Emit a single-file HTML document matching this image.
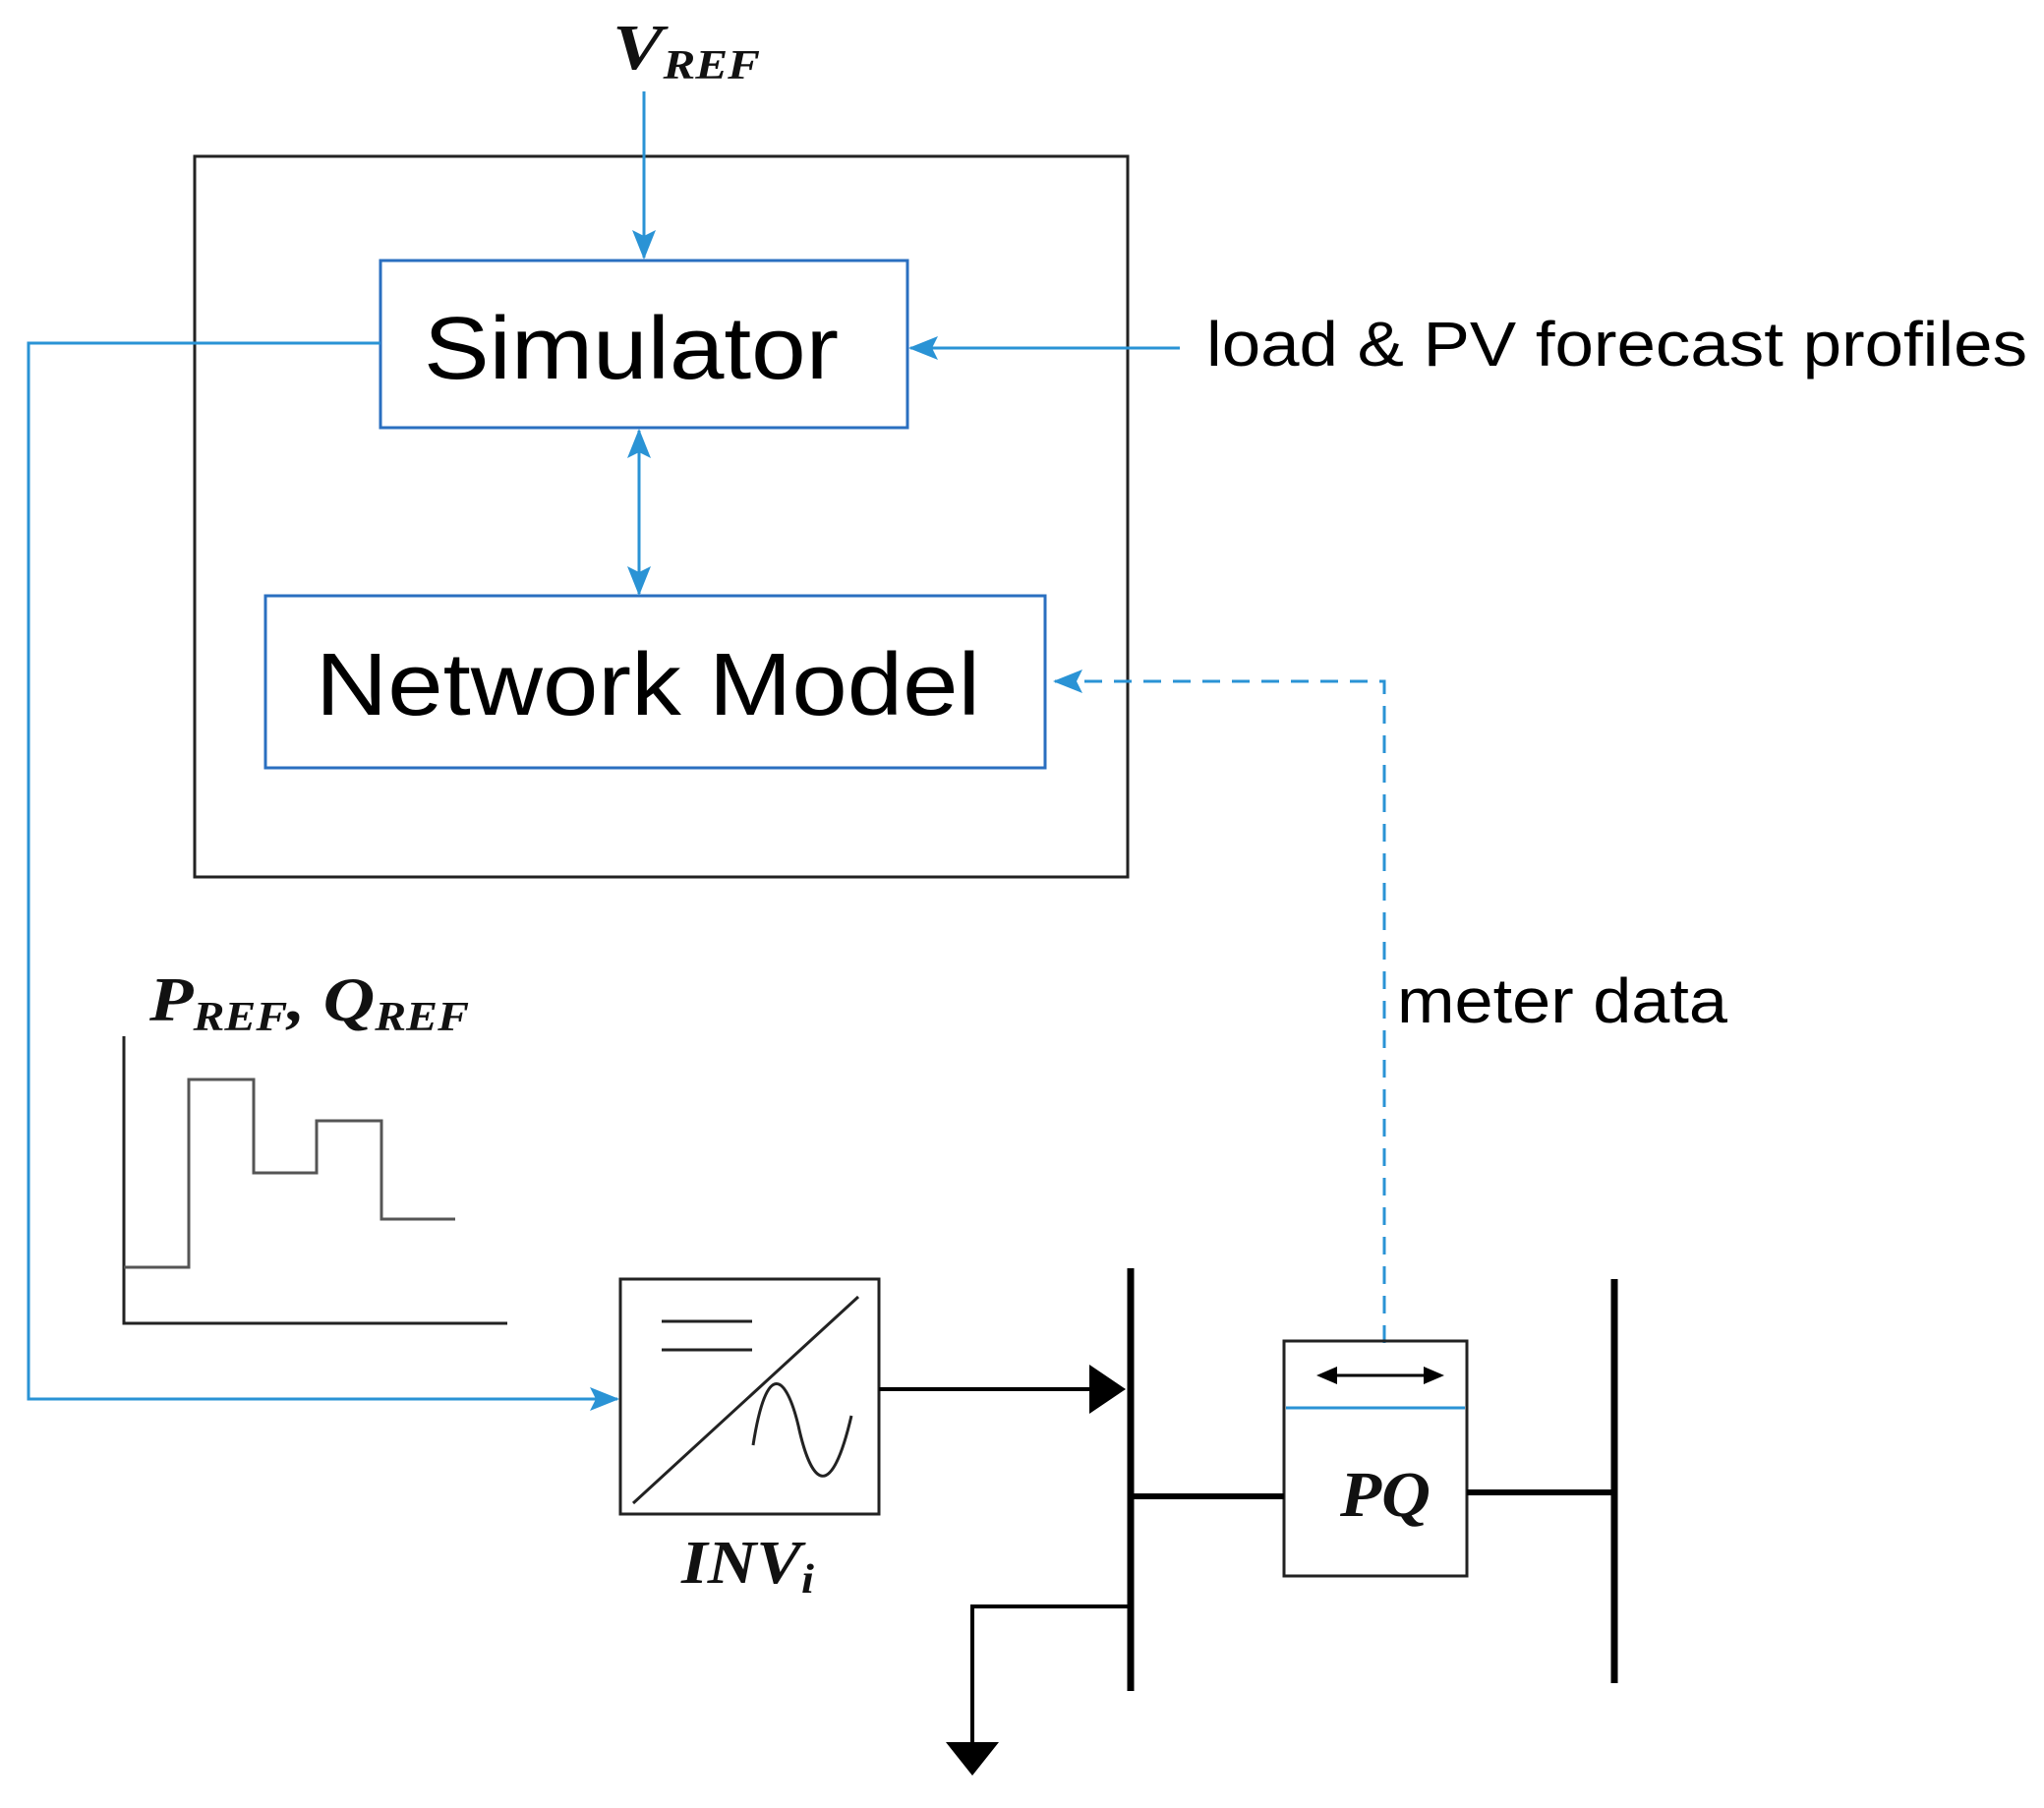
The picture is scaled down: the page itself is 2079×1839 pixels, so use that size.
<!DOCTYPE html>
<html><head><meta charset="utf-8"><style>html,body{margin:0;padding:0;background:#fff}svg{display:block}</style></head>
<body>
<svg width="2079" height="1839" viewBox="0 0 2079 1839" xmlns="http://www.w3.org/2000/svg">
<defs>
<marker id="ab" markerWidth="30" markerHeight="30" refX="28" refY="15" orient="auto" markerUnits="userSpaceOnUse" viewBox="0 0 30 30"><path d="M0,3 L30,15 L0,27 L6,15 Z" fill="#2a93d5"/></marker>
</defs>
<g font-family="Liberation Serif, serif" font-style="italic" font-weight="bold" fill="#111">
<text x="623" y="70" font-size="66" textLength="150" lengthAdjust="spacingAndGlyphs">V<tspan font-size="42" dy="10">REF</tspan></text>
<text x="152" y="1038" font-size="64" textLength="325" lengthAdjust="spacingAndGlyphs">P<tspan font-size="42" dy="10">REF</tspan><tspan dy="-10">, Q</tspan><tspan font-size="42" dy="10">REF</tspan></text>
<text x="693" y="1610" font-size="62" textLength="135" lengthAdjust="spacingAndGlyphs">INV<tspan font-size="42" dy="10">i</tspan></text>
<text x="1363" y="1542" font-size="66" textLength="92" lengthAdjust="spacingAndGlyphs">PQ</text>
</g>
<rect x="198" y="159" width="949" height="733" fill="none" stroke="#222" stroke-width="3"/>
<rect x="387" y="265" width="536" height="170" fill="none" stroke="#2a6fc0" stroke-width="3"/>
<rect x="270" y="606" width="793" height="175" fill="none" stroke="#2a6fc0" stroke-width="3"/>
<g font-family="Liberation Sans, sans-serif" fill="#000">
<text x="431" y="385" font-size="90" textLength="422" lengthAdjust="spacingAndGlyphs">Simulator</text>
<text x="321" y="727" font-size="90" textLength="676" lengthAdjust="spacingAndGlyphs">Network  Model</text>
<text x="1227" y="372" font-size="64" textLength="835" lengthAdjust="spacingAndGlyphs">load &amp; PV forecast profiles</text>
<text x="1421" y="1040" font-size="64" textLength="336" lengthAdjust="spacingAndGlyphs">meter data</text>
</g>
<g stroke="#2a93d5" stroke-width="3" fill="none">
<line x1="655" y1="93" x2="655" y2="262" marker-end="url(#ab)"/>
<line x1="650" y1="500" x2="650" y2="604" marker-end="url(#ab)"/>
<line x1="650" y1="540" x2="650" y2="438" marker-end="url(#ab)"/>
<line x1="1200" y1="354" x2="926" y2="354" marker-end="url(#ab)"/>
<polyline points="387,349 29,349 29,1423 628,1423" marker-end="url(#ab)"/>
<polyline points="1408,1366 1408,693 1073,693" stroke-dasharray="18,12" marker-end="url(#ab)"/>
</g>
<g stroke="#222" stroke-width="3" fill="none">
<polyline points="126,1054 126,1346 516,1346"/>
<polyline stroke="#555" points="126,1289 192,1289 192,1098 258,1098 258,1193 322,1193 322,1140 388,1140 388,1240 463,1240"/>
<rect x="631" y="1301" width="263" height="239"/>
<line x1="644" y1="1529" x2="873" y2="1319"/>
<line x1="673" y1="1344" x2="765" y2="1344"/>
<line x1="673" y1="1373" x2="765" y2="1373"/>
<path d="M766,1470 C780,1380 800,1400 812,1450 C825,1510 845,1530 866,1440"/>
<rect x="1306" y="1364" width="186" height="239"/>
</g>
<line x1="1308" y1="1432" x2="1490" y2="1432" stroke="#2a93d5" stroke-width="3"/>
<g stroke="#000" stroke-width="3">
<line x1="1345" y1="1399" x2="1463" y2="1399"/>
</g>
<path d="M1339,1399 L1360,1390 L1360,1408 Z M1469,1399 L1448,1390 L1448,1408 Z" fill="#000"/>
<g stroke="#000" fill="none">
<line x1="894" y1="1413" x2="1110" y2="1413" stroke-width="4"/>
<line x1="1150" y1="1290" x2="1150" y2="1720" stroke-width="7"/>
<line x1="1642" y1="1301" x2="1642" y2="1712" stroke-width="7"/>
<line x1="1150" y1="1522" x2="1306" y2="1522" stroke-width="6"/>
<line x1="1492" y1="1518" x2="1642" y2="1518" stroke-width="6"/>
<polyline points="1150,1634 989,1634 989,1775" stroke-width="4"/>
</g>
<path d="M1108,1388 L1145,1413 L1108,1438 Z" fill="#000"/>
<path d="M962,1772 L1016,1772 L989,1806 Z" fill="#000"/>
</svg>
</body></html>
